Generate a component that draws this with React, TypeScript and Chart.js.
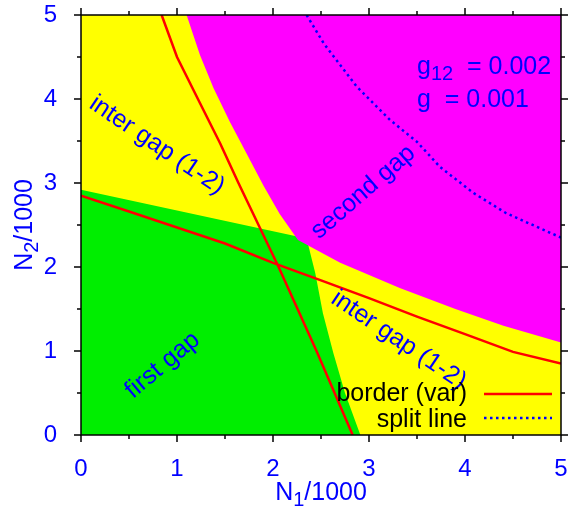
import React, { useEffect, useRef } from 'react';
import { Chart, registerables } from 'chart.js';

Chart.register(...registerables);

// ---- axes ----
const axisMin = 0;
const axisMax = 5;
const majorTicks = [0, 1, 2, 3, 4, 5];
const minorTicks = [0.5, 1.5, 2.5, 3.5, 4.5];

// ---- regions (N1/1000, N2/1000) ----
const plotRegionN1 = [0, 5, 5, 0];
const plotRegionN2 = [0, 0, 5, 5];

const firstGapN1 = [0, 0, 2.35, 2.44, 2.52, 2.63, 2.75, 2.91];
const firstGapN2 = [0, 2.92, 2.34, 1.93, 1.45, 0.97, 0.5, 0];

const secondGapN1 = [1.1, 1.24, 1.38, 1.55, 1.73, 1.9, 2.07, 2.26, 2.7, 3.32, 3.9, 4.4, 5, 5];
const secondGapN2 = [5, 4.52, 4.13, 3.73, 3.34, 2.97, 2.63, 2.32, 2.05, 1.75, 1.5, 1.3, 1.1, 5];

// ---- border (var) lines ----
const border1N1 = [0.84, 1.0, 1.24, 1.45, 1.64, 2.05, 2.45, 2.83];
const border1N2 = [5, 4.5, 3.95, 3.47, 3.0, 2.02, 1.01, 0];
const border2N1 = [0, 0.5, 1.0, 1.5, 2.0, 2.5, 3.0, 3.5, 4.0, 4.5, 5];
const border2N2 = [2.85, 2.66, 2.47, 2.28, 2.05, 1.84, 1.63, 1.41, 1.2, 0.99, 0.85];

// ---- split line ----
const splitN1 = [2.35, 2.53, 2.87, 3.22, 3.5, 3.74, 4.09, 4.43, 5.0];
const splitN2 = [5, 4.66, 4.15, 3.75, 3.49, 3.19, 2.88, 2.64, 2.35];

// ---- region labels ----
const regionLabels = ['inter gap (1-2)', 'second gap', 'inter gap (1-2)', 'first gap'];
const regionLabelN1 = [0.79, 2.94, 3.31, 0.85];
const regionLabelN2 = [3.45, 2.89, 1.13, 0.83];
const regionLabelAngle = [34, -41, 34, -40];

// ---- parameter text ----
const paramNames = ['g', 'g'];
const paramSubs = ['12', ''];
const paramValues = ['  = 0.002', '  = 0.001'];
const paramN1 = [3.5, 3.5];
const paramN2 = [4.3, 3.9];

// ---- legend ----
const legendLabels = ['border (var)', 'split line'];

const FONT_FAMILY = '"Liberation Sans", Arial, Helvetica, sans-serif';
const FS = 25;
const FS_TICK = 24;
const FS_SUB = 20;
const BLUE = '#0000ff';
const RED = '#ff0000';

const pts = (xs: number[], ys: number[]) => xs.map((x, i) => ({ x, y: ys[i] }));

const overlayPlugin = {
  id: 'overlay',
  afterDraw(chart: any) {
    const ctx = chart.ctx as CanvasRenderingContext2D;
    const xs = chart.scales.x;
    const ys = chart.scales.y;
    const { left, right, top, bottom } = chart.chartArea;
    ctx.save();

    // region labels
    ctx.fillStyle = BLUE;
    ctx.font = `${FS}px ${FONT_FAMILY}`;
    regionLabels.forEach((t, i) => {
      ctx.save();
      ctx.translate(xs.getPixelForValue(regionLabelN1[i]), ys.getPixelForValue(regionLabelN2[i]));
      ctx.rotate((regionLabelAngle[i] * Math.PI) / 180);
      ctx.textAlign = 'center';
      ctx.textBaseline = 'middle';
      ctx.fillText(t, 0, 0);
      ctx.restore();
    });

    // parameter text
    ctx.textAlign = 'left';
    ctx.textBaseline = 'alphabetic';
    paramNames.forEach((n, i) => {
      let x = xs.getPixelForValue(paramN1[i]);
      const y = ys.getPixelForValue(paramN2[i]);
      ctx.font = `${FS}px ${FONT_FAMILY}`;
      ctx.fillText(n, x, y);
      x += ctx.measureText(n).width;
      if (paramSubs[i]) {
        ctx.font = `${FS_SUB}px ${FONT_FAMILY}`;
        ctx.fillText(paramSubs[i], x, y + 6);
        x += ctx.measureText(paramSubs[i]).width;
      }
      ctx.font = `${FS}px ${FONT_FAMILY}`;
      ctx.fillText(paramValues[i], x, y);
    });

    // legend
    ctx.font = `${FS}px ${FONT_FAMILY}`;
    ctx.fillStyle = '#000';
    ctx.textAlign = 'right';
    const legX = right - 94;
    const legY = [bottom - 34, bottom - 8];
    legendLabels.forEach((t, i) => ctx.fillText(t, legX, legY[i]));
    ctx.strokeStyle = RED;
    ctx.lineWidth = 2.5;
    ctx.beginPath();
    ctx.moveTo(right - 77, legY[0] - 7);
    ctx.lineTo(right - 9, legY[0] - 7);
    ctx.stroke();
    ctx.strokeStyle = BLUE;
    ctx.setLineDash([2.5, 3.5]);
    ctx.beginPath();
    ctx.moveTo(right - 77, legY[1] - 9);
    ctx.lineTo(right - 9, legY[1] - 9);
    ctx.stroke();
    ctx.setLineDash([]);

    // border
    ctx.strokeStyle = '#000';
    ctx.lineWidth = 1.5;
    ctx.strokeRect(left, top, right - left, bottom - top);

    // tick marks
    const tick = (vals: number[], len: number) => {
      vals.forEach((v) => {
        const px = xs.getPixelForValue(v);
        const py = ys.getPixelForValue(v);
        ctx.beginPath();
        ctx.moveTo(px, bottom);
        ctx.lineTo(px, bottom + len);
        ctx.moveTo(px, top);
        ctx.lineTo(px, top - len);
        ctx.moveTo(left, py);
        ctx.lineTo(left - len, py);
        ctx.moveTo(right, py);
        ctx.lineTo(right + len, py);
        ctx.stroke();
      });
    };
    tick(majorTicks, 7);
    tick(minorTicks, 4);

    // axis titles
    ctx.fillStyle = BLUE;
    const drawTitle = (sub: string) => {
      ctx.font = `${FS}px ${FONT_FAMILY}`;
      const wN = ctx.measureText('N').width;
      const wR = ctx.measureText('/1000').width;
      ctx.font = `${FS_SUB}px ${FONT_FAMILY}`;
      const wS = ctx.measureText(sub).width;
      const total = wN + wS + wR;
      let x = -total / 2;
      ctx.textAlign = 'left';
      ctx.textBaseline = 'alphabetic';
      ctx.font = `${FS}px ${FONT_FAMILY}`;
      ctx.fillText('N', x, 0);
      x += wN;
      ctx.font = `${FS_SUB}px ${FONT_FAMILY}`;
      ctx.fillText(sub, x, 6);
      x += wS;
      ctx.font = `${FS}px ${FONT_FAMILY}`;
      ctx.fillText('/1000', x, 0);
    };
    ctx.save();
    ctx.translate((left + right) / 2, bottom + 65);
    drawTitle('1');
    ctx.restore();
    ctx.save();
    ctx.translate(32, (top + bottom) / 2);
    ctx.rotate(-Math.PI / 2);
    drawTitle('2');
    ctx.restore();

    ctx.restore();
  },
};

export default function App() {
  const ref = useRef<HTMLCanvasElement>(null);
  useEffect(() => {
    const tickFont = { family: FONT_FAMILY, size: FS_TICK };
    const regionDs = (xs: number[], ys: number[], color: string, order: number) => ({
      data: pts(xs, ys),
      showLine: true,
      borderWidth: 0,
      borderColor: 'rgba(0,0,0,0)',
      backgroundColor: color,
      pointRadius: 0,
      fill: 'shape',
      order,
    });
    const lineDs = (xs: number[], ys: number[], color: string, order: number, dash: number[] = []) => ({
      data: pts(xs, ys),
      showLine: true,
      borderColor: color,
      borderWidth: 2.5,
      borderDash: dash,
      pointRadius: 0,
      fill: false,
      order,
    });
    const chart = new Chart(ref.current!, {
      type: 'scatter',
      data: {
        datasets: [
          lineDs(splitN1, splitN2, BLUE, 1, [2.5, 3.5]),
          lineDs(border1N1, border1N2, RED, 2),
          lineDs(border2N1, border2N2, RED, 3),
          regionDs(secondGapN1, secondGapN2, '#ff00ff', 8),
          regionDs(firstGapN1, firstGapN2, '#00ee00', 9),
          regionDs(plotRegionN1, plotRegionN2, '#ffff00', 10),
        ] as any,
      },
      options: {
        animation: false,
        responsive: false,
        events: [],
        layout: { padding: { top: 15, right: 20, left: 0, bottom: 0 } },
        plugins: { legend: { display: false }, tooltip: { enabled: false } },
        elements: { line: { tension: 0 } },
        scales: {
          x: {
            type: 'linear',
            min: axisMin,
            max: axisMax,
            grid: { display: false, drawTicks: false, tickLength: 0 },
            border: { display: false },
            ticks: { color: BLUE, font: tickFont, padding: 20, maxRotation: 0, autoSkip: false },
            afterBuildTicks: (s: any) => {
              s.ticks = majorTicks.map((v) => ({ value: v }));
            },
            afterFit: (s: any) => {
              s.height = 80;
              s.paddingLeft = 0;
              s.paddingRight = 0;
              s.paddingTop = 0;
              s.paddingBottom = 0;
            },
          },
          y: {
            type: 'linear',
            min: axisMin,
            max: axisMax,
            grid: { display: false, drawTicks: false, tickLength: 0 },
            border: { display: false },
            ticks: { color: BLUE, font: tickFont, padding: 24, autoSkip: false },
            afterBuildTicks: (s: any) => {
              s.ticks = majorTicks.map((v) => ({ value: v }));
            },
            afterFit: (s: any) => {
              s.width = 81;
              s.paddingLeft = 0;
              s.paddingRight = 0;
              s.paddingTop = 0;
              s.paddingBottom = 0;
            },
          },
        },
      } as any,
      plugins: [overlayPlugin],
    });
    return () => chart.destroy();
  }, []);
  return (
    <div style={{ position: 'absolute', left: 0, top: 0, width: 581, height: 515, background: '#fff' }}>
      <canvas ref={ref} width={581} height={515} style={{ display: 'block' }} />
    </div>
  );
}
